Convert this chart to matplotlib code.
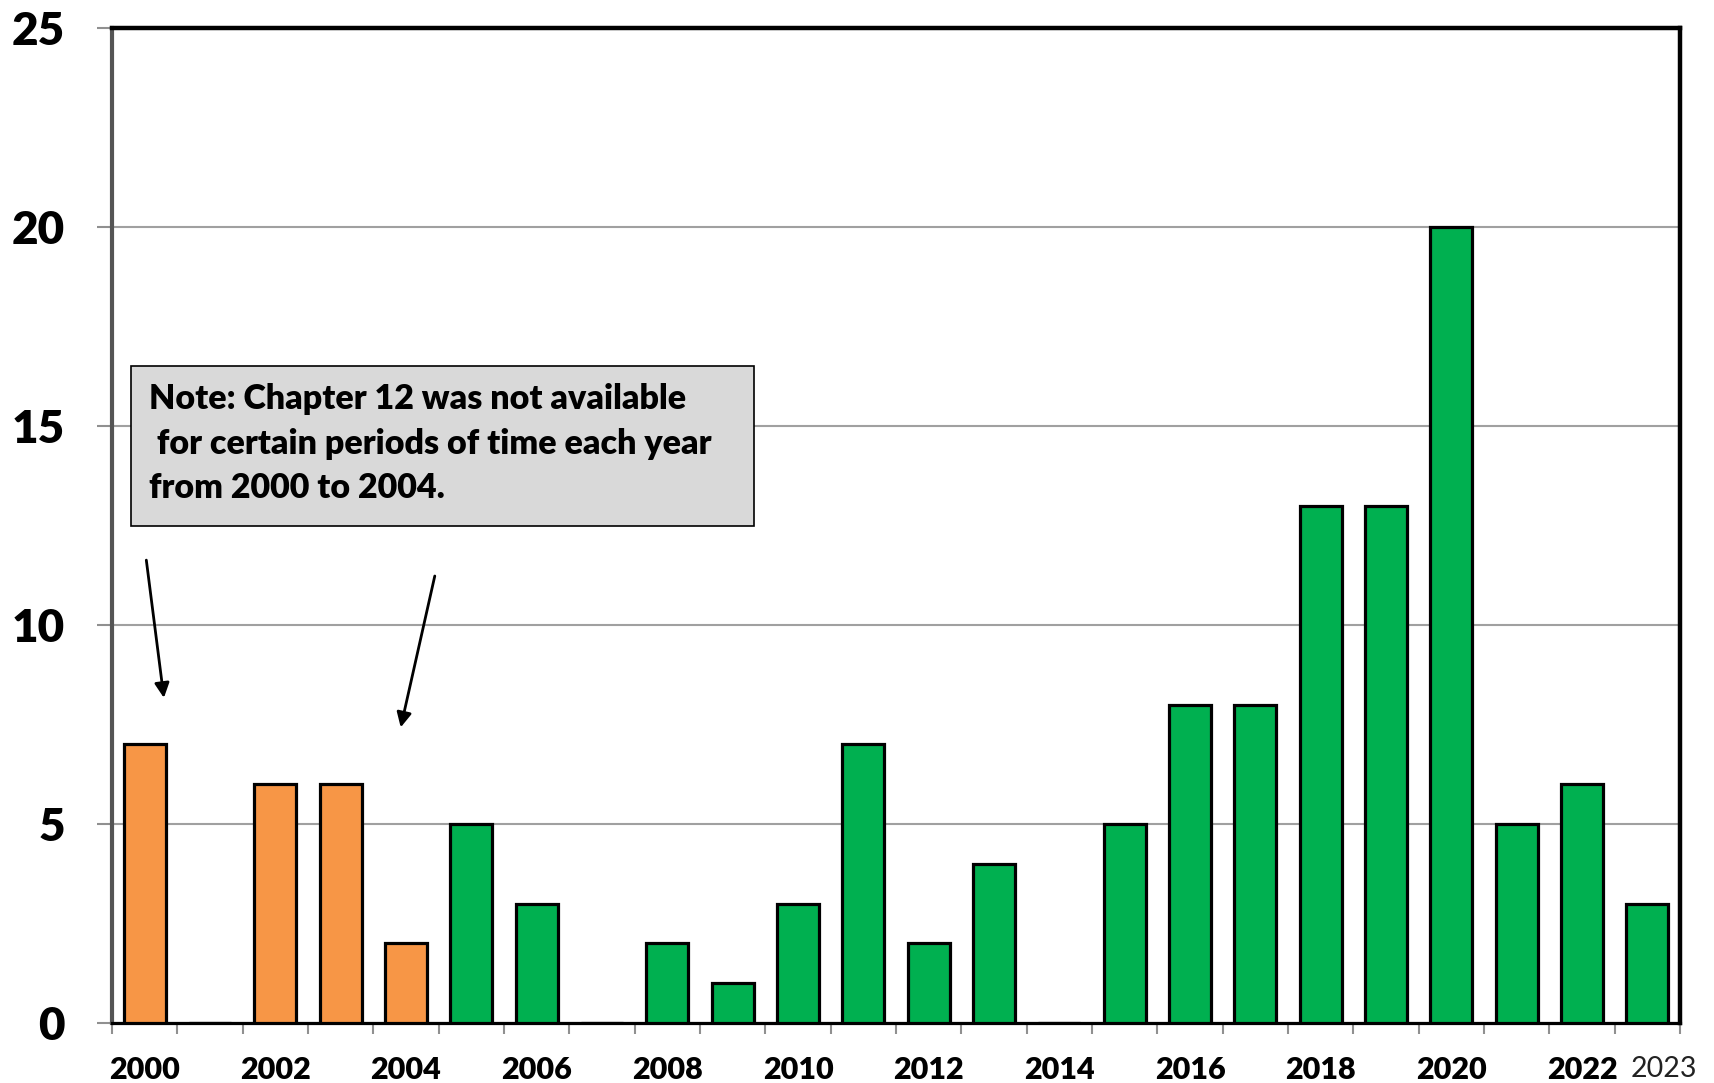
import matplotlib
matplotlib.use("Agg")
import matplotlib.pyplot as plt
from matplotlib.patches import Rectangle

years = list(range(2000, 2024))
counts = [7, 0, 6, 6, 2, 5, 3, 0, 2, 1, 3, 7, 2, 4, 0, 5, 8, 8, 13, 13, 20, 5, 6, 3]
orange_years = [2000, 2001, 2002, 2003, 2004]
label_years = [2000, 2002, 2004, 2006, 2008, 2010, 2012, 2014, 2016, 2018, 2020, 2022]
note = "Note: Chapter 12 was not available\n for certain periods of time each year\nfrom 2000 to 2004."

plt.rcParams['font.family'] = ['Lato', 'DejaVu Sans']

fig = plt.figure(figsize=(17.15, 10.83), dpi=100)
ax = fig.add_axes([0.0653, 0.0554, 0.9143, 0.9187])

x = list(range(len(years)))
colors = ["#F79646" if y in orange_years else "#00B050" for y in years]
ax.bar(x, counts, width=0.64, color=colors, edgecolor="black", linewidth=2.3, zorder=3)

ax.set_xlim(-0.5, len(years) - 0.5)
ax.set_ylim(0, 25)
ax.set_yticks([0, 5, 10, 15, 20, 25])
ax.yaxis.grid(True, color="#a0a0a0", linewidth=1.5, zorder=0)
ax.set_axisbelow(True)
ax.tick_params(axis="y", length=11, width=1.5, color="#909090", pad=23, labelsize=33)
for t in ax.get_yticklabels():
    t.set_fontweight("heavy")

# labels every other year, plus the last one (nudged right like the original)
ax.set_xticks([years.index(y) for y in label_years] + [len(years) - 0.75])
ax.set_xticklabels([str(y) for y in label_years] + [str(years[-1])])
ax.set_xticks([i - 0.5 for i in range(len(years) + 1)], minor=True)
ax.tick_params(axis="x", which="major", length=0, pad=24, labelsize=22)
ax.tick_params(axis="x", which="minor", length=8, width=1.5, color="#909090")
xl = ax.get_xticklabels()
for t in xl[:-1]:
    t.set_fontweight("heavy")
xl[-1].set_fontsize(20.5)
xl[-1].set_color("#222222")

ax.spines["top"].set_linewidth(3.2)
ax.spines["right"].set_linewidth(3.2)
ax.spines["bottom"].set_linewidth(2.3)
ax.spines["left"].set_color("#555555")
ax.spines["left"].set_linewidth(3)

ax.add_patch(Rectangle((-0.21, 12.5), 9.54, 4.0, facecolor="#d9d9d9",
                       edgecolor="black", linewidth=1.2, zorder=5))
ax.text(0.06, 14.55, note, fontsize=24.5, fontweight="heavy", va="center", ha="left",
        linespacing=1.48, zorder=6)

ax.annotate("", xy=(0.3, 8.1), xytext=(0.02, 11.7),
            arrowprops=dict(arrowstyle="-|>", color="black", lw=2, mutation_scale=22), zorder=6)
ax.annotate("", xy=(3.91, 7.36), xytext=(4.45, 11.3),
            arrowprops=dict(arrowstyle="-|>", color="black", lw=2, mutation_scale=22), zorder=6)

fig.savefig("out.png", dpi=100)
